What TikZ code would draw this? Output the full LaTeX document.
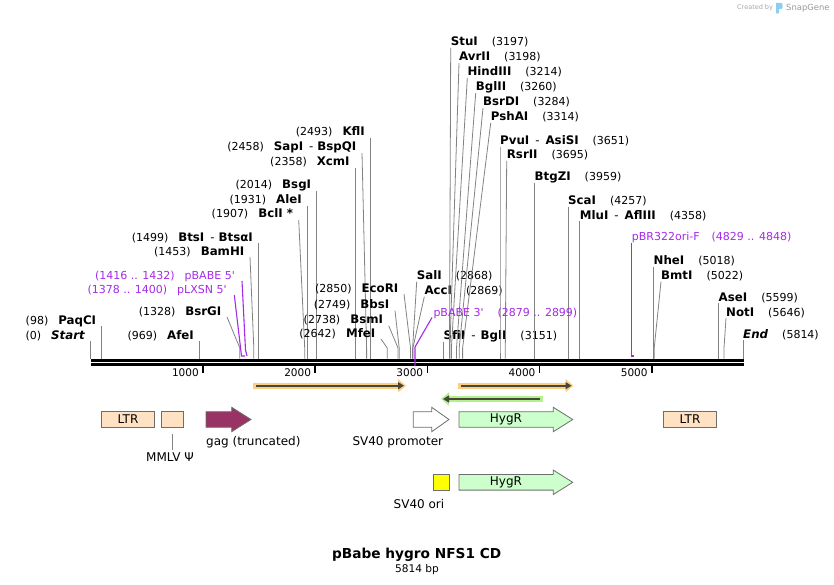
\documentclass[tikz,border=0pt]{standalone}
\usepackage{fontspec}
\setmainfont{DejaVu Sans}
\usetikzlibrary{arrows.meta,calc,positioning}

\definecolor{siteGray}{RGB}{130,130,130}
\definecolor{primerPurple}{RGB}{165,42,232}
\definecolor{featOrange}{RGB}{252,206,130}
\definecolor{featGreen}{RGB}{180,240,140}
\definecolor{darkLine}{RGB}{72,72,58}
\definecolor{ltrPeach}{RGB}{255,226,196}
\definecolor{gagMaroon}{RGB}{153,51,102}
\definecolor{hygGreen}{RGB}{204,255,204}
\definecolor{oriYellow}{RGB}{255,255,0}
\definecolor{featEdge}{RGB}{110,110,110}
\definecolor{logoBlue}{RGB}{140,205,240}

\newcommand{\siteName}[1]{{\fontsize{11.8}{13}\selectfont\bfseries #1}}

\tikzset{
  siteLine/.style={draw=siteGray,line width=0.8pt},
  primerLine/.style={draw=primerPurple,line width=1.1pt},
  siteLeft/.style={anchor=base east,inner sep=0pt,font=\fontsize{11}{13}\selectfont},
  siteRight/.style={anchor=base west,inner sep=0pt,font=\fontsize{11}{13}\selectfont},
  primerLabel/.style={inner sep=0pt,text=primerPurple,font=\fontsize{11}{13}\selectfont},
  tick/.style={line width=1.6pt},
  tickLabel/.style={anchor=base east,inner sep=0pt,font=\fontsize{10.5}{12}\selectfont},
  featBox/.style={draw=featEdge,line width=0.8pt},
  featLabel/.style={inner sep=0pt,font=\fontsize{12}{14}\selectfont},
  halo/.style={line width=6pt,draw=#1,-{Triangle[length=8pt,width=13pt]}},
  bindLine/.style={line width=1.7pt,draw=darkLine,-{Triangle[length=6pt,width=7pt]}},
}

% feature arrow: tail x, head start x, tip x, centre y, style
\newcommand{\featArrow}[5]{%
  \draw[featBox,#5] (#1,#4-7.8) -- (#2,#4-7.8) -- (#2,#4-12.2) -- (#3,#4)
    -- (#2,#4+12.2) -- (#2,#4+7.8) -- (#1,#4+7.8) -- cycle;}

\begin{document}
\begin{tikzpicture}[x=1pt,y=-1pt]
\useasboundingbox (0,0) rectangle (834,585);

% ===== Sequence bar and scale =====
\coordinate (barL) at (90.5,360);
\coordinate (barR) at (743.5,360);
\draw[line width=3pt] (barL) -- (barR);
\draw[line width=2.4pt] ($(barL)+(0,4.6)$) -- ($(barR)+(0,4.6)$);
\foreach \k in {1,...,5} {
  \coordinate (tk\k) at ({90.8+112.19*\k},365.5);
  \draw[tick] (tk\k) -- ++(0,7.5);
  \node[tickLabel] (tl\k) at ($(tk\k)+(-4,10.5)$) {\k000};
}

% ===== Sites left of centre =====
\foreach [count=\i] \num/\name/\yt/\xt/\xb in {
  0/{\textit{Start}}/341/90.8/90.8,
  98/{PaqCI}/326/101.8/101.8,
  969/{AfeI}/341/199.5/199.5,
  1328/{BsrGI}/317/227/239.8,
  1453/{BamHI}/257/250/253.8,
  1499/{BtsI\hspace{6pt}\textmd{-}\hspace{4pt}BtsαI}/243/258.5/258.5,
  1907/{BclI *}/220/298.7/304.7,
  1931/{AleI}/206/307.4/307.4,
  2014/{BsgI}/191/316.8/316.8,
  2358/{XcmI}/168/355.3/355.3,
  2458/{SapI\hspace{6pt}\textmd{-}\hspace{4pt}BspQI}/153/362/366.6,
  2493/{KflI}/138/370.5/370.5,
  2642/{MfeI}/339/381/387.2,
  2738/{BsmI}/325.7/388.7/398,
  2749/{BbsI}/310.7/395/399.2,
  2850/{EcoRI}/294/404/410.5} {
  \coordinate (lt\i) at (\xt,\yt);
  \coordinate (lb\i) at (\xb,348);
  \coordinate (lc\i) at (\xb,358.5);
  \node[siteLeft] (ls\i) at ($(lt\i)+(-5.5,-2)$) {(\num)\hspace{10pt}\siteName{\name}};
  \draw[siteLine] (lt\i) -- (lb\i) -- (lc\i);
}

% ===== Sites right of centre =====
\foreach [count=\i] \num/\name/\yt/\xt/\xb in {
  2868/{SalI}/281.7/416.7/412.6,
  2869/{AccI}/296.7/424.3/412.9,
  3151/{SfiI\hspace{6pt}\textmd{-}\hspace{5pt}BglI}/341.7/443.5/443.5,
  3197/{StuI}/48/450.7/449.5,
  3198/{AvrII}/63/459/449.9,
  3214/{HindIII}/78/467.3/451.4,
  3260/{BglII}/93/475.7/456.5,
  3284/{BsrDI}/108/483/459.2,
  3314/{PshAI}/123/490.7/462.6,
  3651/{PvuI\hspace{6pt}\textmd{-}\hspace{6pt}AsiSI}/146.7/500/500,
  3695/{RsrII}/161/506.7/505.3,
  3959/{BtgZI}/183/534.5/534.5,
  4257/{ScaI}/206.7/568/568,
  4358/{MluI\hspace{6pt}\textmd{-}\hspace{6pt}AflIII}/221/579.7/579.7,
  5018/{NheI}/266.7/653.5/653.5,
  5022/{BmtI}/281.7/661/654.2,
  5599/{AseI}/303/718.5/718.5,
  5646/{NotI}/318/726/724,
  5814/{\textit{End}}/340/743/743} {
  \coordinate (rt\i) at (\xt,\yt);
  \coordinate (rb\i) at (\xb,348);
  \coordinate (rc\i) at (\xb,358.5);
  \node[siteRight] (rs\i) at ($(rt\i)+(0,-2)$) {\siteName{\name}\hspace{14pt}(\num)};
  \draw[siteLine] (rt\i) -- (rb\i) -- (rc\i);
}

% ===== Primers =====
\coordinate (pLt) at (234.3,295);
\coordinate (pLb) at (241.5,356);
\coordinate (pLe) at (245,356);
\node[primerLabel,anchor=base east] (pLXSN) at ($(pLt)+(-7.5,-1.5)$) {(1378 .. 1400)\hspace{10pt}pLXSN 5\textquotesingle};
\draw[primerLine] (pLt) -- (pLb) -- (pLe);

\coordinate (p5t) at (242,281);
\coordinate (p5b) at (245.5,350);
\coordinate (p5e) at (247,356);
\node[primerLabel,anchor=base east] (pBABEfive) at ($(p5t)+(-7,-1.7)$) {(1416 .. 1432)\hspace{10pt}pBABE 5\textquotesingle};
\draw[primerLine] (p5t) -- (p5b) -- (p5e);

\coordinate (p3t) at (432,317.5);
\coordinate (p3b) at (415,347);
\coordinate (p3e) at (415,366);
\node[primerLabel,anchor=base west] (pBABEthree) at ($(p3t)+(1.3,-1.5)$) {pBABE 3\textquotesingle\hspace{14pt}(2879 .. 2899)};
\draw[primerLine] (p3t) -- (p3b) -- (p3e);

\coordinate (pRt) at (631.7,243);
\coordinate (pRb) at (631.7,356);
\coordinate (pRe) at (634,356);
\node[primerLabel,anchor=base west] (pBRori) at ($(pRt)+(0,-2.3)$) {pBR322ori-F\hspace{12pt}(4829 .. 4848)};
\draw[primerLine] (pRt) -- (pRb) -- (pRe);

% ===== Binding arrows =====
\coordinate (oA1) at (253.3,385.7);
\coordinate (oA2) at (406,385.7);
\coordinate (oB1) at (458.3,385.7);
\coordinate (oB2) at (573.5,385.7);
\coordinate (gA1) at (542.7,399);
\coordinate (gA2) at (441,399);
\draw[halo=featOrange] (oA1) -- (oA2);
\draw[bindLine] ($(oA1)+(3,0)$) -- ($(oA2)+(-2,0)$);
\draw[halo=featOrange] (oB1) -- (oB2);
\draw[bindLine] ($(oB1)+(3,0)$) -- ($(oB2)+(-2,0)$);
\draw[halo=featGreen] (gA1) -- (gA2);
\draw[bindLine] ($(gA1)+(-3,0)$) -- ($(gA2)+(2,0)$);

% ===== Features, row 1 =====
\draw[featBox,fill=ltrPeach] (101.7,411.7) rectangle (154.3,427.3);
\node[featLabel] (ltrA) at (128,419.5) {LTR};
\draw[featBox,fill=ltrPeach] (161.7,411.7) rectangle (183.3,427.3);
\coordinate (psiTop) at (172.3,434);
\coordinate (psiBot) at (172.3,450);
\draw[siteLine] (psiTop) -- (psiBot);
\node[featLabel,anchor=base] (psi) at (170,461) {MMLV Ψ};
\featArrow{206}{231.7}{251}{419.5}{fill=gagMaroon}
\node[featLabel,anchor=base west] (gag) at (206,445) {gag (truncated)};
\featArrow{413.3}{431.7}{449}{419.5}{fill=white}
\node[featLabel,anchor=base east] (sv40p) at (443.3,445) {SV40 promoter};
\featArrow{459}{553.3}{572.7}{419.5}{fill=hygGreen}
\node[featLabel] (hygA) at (506,419.5) {HygR};
\draw[featBox,fill=ltrPeach] (663.3,411.7) rectangle (716.7,427.3);
\node[featLabel] (ltrB) at (690,419.5) {LTR};

% ===== Features, row 2 =====
\draw[featBox,fill=oriYellow] (433.3,474.3) rectangle (449.3,490.3);
\node[featLabel,anchor=base] (sv40ori) at (419,508) {SV40 ori};
\featArrow{459}{553.3}{572.7}{482.3}{fill=hygGreen}
\node[featLabel] (hygB) at (506,482.3) {HygR};

% ===== Title =====
\node[anchor=base,inner sep=0pt,font=\fontsize{13.7}{16}\selectfont\bfseries] (title) at (416.7,558.3) {pBabe hygro NFS1 CD};
\node[anchor=base,inner sep=0pt,font=\fontsize{10.6}{12}\selectfont] (length) at (417,572.3) {5814 bp};

% ===== Credit =====
\node[anchor=base west,inner sep=0pt,text=black!35,font=\fontsize{6.5}{8}\selectfont] (credit) at (737,10) {Created by};
\fill[logoBlue] (776,3) -- (781.5,3) .. controls (783,3) and (783,9) .. (781.5,9) -- (779,9) -- (779,13.5) -- (776,13.5) -- cycle;
\node[anchor=base west,inner sep=0pt,text=black!40,font=\fontsize{8.4}{10}\selectfont] (snapgene) at (786,10.5) {SnapGene};

\end{tikzpicture}
\end{document}
